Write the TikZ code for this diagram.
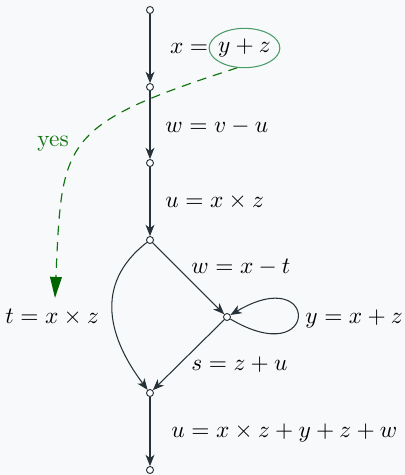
\documentclass[tikz,border=0pt]{standalone}
\usetikzlibrary{arrows.meta,shapes.geometric}
\definecolor{bg}{HTML}{F8F9FA}
\definecolor{ink}{HTML}{263238}
\definecolor{dgreen}{HTML}{117511}
\definecolor{tgreen}{HTML}{006400}
\definecolor{lgreen}{HTML}{4A9D6A}
\begin{document}
\begin{tikzpicture}[x=0.4275pt,y=-0.4275pt,
  pt/.style={circle,draw=ink,fill=white,inner sep=0pt,minimum size=3pt,line width=0.4pt},
  edge/.style={draw=ink,line width=0.45pt,-{Stealth[length=4.8pt,width=3.8pt,inset=1.4pt]}},
  lbl/.style={anchor=base west,inner sep=0pt,text=black}]
\fill[bg] (0,0) rectangle (405,475);
\useasboundingbox (0,0) rectangle (405,475);
% points
\node[pt] (n0) at (150,10) {};
\node[pt] (n1) at (150,87) {};
\node[pt] (n2) at (150,163) {};
\node[pt] (n3) at (150,240) {};
\node[pt] (n4) at (227,317) {};
\node[pt] (n5) at (150,393) {};
\node[pt] (n6) at (150,470) {};
% edges
\draw[edge] (n0) -- (n1);
\draw[edge] (n1) -- (n2);
\draw[edge] (n2) -- (n3);
\draw[edge] (n3) -- (n4);
\draw[edge] (n4) -- (n5);
\draw[edge] (n5) -- (n6);
\draw[edge] (n3) .. controls (92,285) and (110,340) .. (n5);
\draw[edge] (n4) .. controls (320,372) and (320,262) .. (n4);
% labels
\node[ellipse,draw=lgreen,line width=0.45pt,inner xsep=-0.6pt,inner ysep=0pt,minimum height=16.8pt] (lyz) at (244.5,48) {$y+z$};
\node[anchor=east,inner sep=0pt] (lx) at (lyz.west) {$x=$};
\node[lbl] (l2) at (165,132) {$w=v-u$};
\node[lbl] (l3) at (165,207) {$u=x\times z$};
\node[lbl] (l4) at (191,273) {$w=x-t$};
\node[lbl] (l5) at (305,323) {$y=x+z$};
\node[lbl] (l6) at (5,323) {$t=x\times z$};
\node[lbl] (l7) at (191,370) {$s=z+u$};
\node[lbl] (l8) at (171,437) {$u=x\times z+y+z+w$};
\node[lbl,text=dgreen] (yes) at (37,146) {yes};
% green dashed
\coordinate (yt) at (55,298);
\draw[dgreen,line width=0.5pt,dash pattern=on 4pt off 3pt,-{Triangle[length=9pt,width=5pt,color=tgreen]}]
  (lyz.250) .. controls (60,125) and (62,140) .. (yt);
\end{tikzpicture}
\end{document}
